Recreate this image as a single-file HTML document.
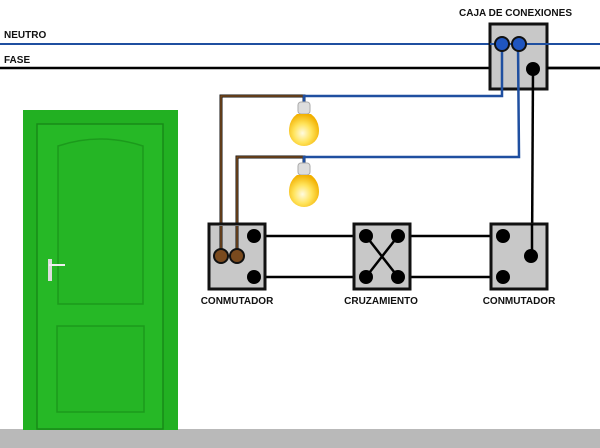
<!DOCTYPE html>
<html><head><style>
body{margin:0;width:600px;height:448px;background:#fff;overflow:hidden;position:relative;font-family:"Liberation Sans",sans-serif}
</style></head><body>
<svg width="600" height="448" viewBox="0 0 600 448" style="position:absolute;left:0;top:0">
<defs>
<radialGradient id="g" cx="0.45" cy="0.6" r="0.6"><stop offset="0" stop-color="#fffbe0"/><stop offset="0.5" stop-color="#ffe35a"/><stop offset="1" stop-color="#f2b000"/></radialGradient>
</defs>
<rect x="0" y="429" width="600" height="19" fill="#b9b9b9"/>
<!-- door -->
<rect x="23" y="110" width="155" height="320" fill="#22b022"/>
<rect x="37" y="124" width="126" height="305" fill="#26b826" stroke="#188a18" stroke-width="1.5"/>
<path d="M58 146 Q100 132 143 146 L143 304 L58 304 Z" fill="#25b525" stroke="#1c9a1c" stroke-width="1.5"/>
<rect x="57" y="326" width="87" height="86" fill="#25b525" stroke="#1c9a1c" stroke-width="1.5"/>
<rect x="48" y="259" width="4" height="22" fill="#ddd"/>
<rect x="49" y="264" width="16" height="2" fill="#eee"/>
<!-- lines -->
<line x1="0" y1="44" x2="600" y2="44" stroke="#1f4fa0" stroke-width="2"/>
<line x1="0" y1="68" x2="600" y2="68" stroke="#000" stroke-width="2.5"/>
<!-- junction box -->
<rect x="490" y="24" width="57" height="65" fill="#c8c8c8" stroke="#111" stroke-width="3"/>
<line x1="490" y1="44" x2="600" y2="44" stroke="#1f4fa0" stroke-width="2"/>
<line x1="547" y1="68" x2="600" y2="68" stroke="#000" stroke-width="2.5"/>
<!-- wires -->
<polyline points="221,256 221,96 304,96 304,102" fill="none" stroke="#111" stroke-width="3"/>
<polyline points="221,256 221,96 304,96 304,102" fill="none" stroke="#7a4a1e" stroke-width="1.5"/>
<polyline points="237,256 237,157 304,157 304,163" fill="none" stroke="#111" stroke-width="3"/>
<polyline points="237,256 237,157 304,157 304,163" fill="none" stroke="#7a4a1e" stroke-width="1.5"/>
<polyline points="304,102 304,96 502,96 502,44" fill="none" stroke="#1f4fa0" stroke-width="2.5"/>
<polyline points="304,163 304,157 519,157 518,44" fill="none" stroke="#1f4fa0" stroke-width="2.5"/>
<line x1="533" y1="69" x2="532" y2="256" stroke="#000" stroke-width="2.5"/>
<circle cx="502" cy="44" r="7" fill="#1f55c0" stroke="#111" stroke-width="2"/>
<circle cx="519" cy="44" r="7" fill="#1f55c0" stroke="#111" stroke-width="2"/>
<circle cx="533" cy="69" r="7" fill="#000"/>
<!-- bulbs -->
<rect x="298" y="102" width="12" height="12" rx="3" fill="#ddd" stroke="#aaa"/>
<path d="M297 114 Q289 120 289 131 A15 15 0 0 0 319 131 Q319 120 311 114 Z" fill="url(#g)"/>
<rect x="298" y="163" width="12" height="12" rx="3" fill="#ddd" stroke="#aaa"/>
<path d="M297 175 Q289 181 289 192 A15 15 0 0 0 319 192 Q319 181 311 175 Z" fill="url(#g)"/>
<!-- switch lines -->
<line x1="253" y1="236" x2="503" y2="236" stroke="#000" stroke-width="2.5"/>
<line x1="253" y1="277" x2="503" y2="277" stroke="#000" stroke-width="2.5"/>
<!-- boxes -->
<rect x="209" y="224" width="56" height="65" fill="#c8c8c8" stroke="#111" stroke-width="3"/>
<rect x="354" y="224" width="56" height="65" fill="#c8c8c8" stroke="#111" stroke-width="3"/>
<rect x="491" y="224" width="56" height="65" fill="#c8c8c8" stroke="#111" stroke-width="3"/>
<line x1="221" y1="226" x2="221" y2="256" stroke="#111" stroke-width="3"/>
<line x1="221" y1="226" x2="221" y2="256" stroke="#7a4a1e" stroke-width="1.5"/>
<line x1="237" y1="226" x2="237" y2="256" stroke="#111" stroke-width="3"/>
<line x1="237" y1="226" x2="237" y2="256" stroke="#7a4a1e" stroke-width="1.5"/>
<line x1="532" y1="224" x2="532" y2="256" stroke="#000" stroke-width="2.5"/>
<line x1="366" y1="236" x2="398" y2="277" stroke="#000" stroke-width="2.5"/>
<line x1="398" y1="236" x2="366" y2="277" stroke="#000" stroke-width="2.5"/>
<g fill="#000">
<circle cx="254" cy="236" r="7"/><circle cx="254" cy="277" r="7"/>
<circle cx="366" cy="236" r="7"/><circle cx="398" cy="236" r="7"/><circle cx="366" cy="277" r="7"/><circle cx="398" cy="277" r="7"/>
<circle cx="503" cy="236" r="7"/><circle cx="503" cy="277" r="7"/><circle cx="531" cy="256" r="7"/>
</g>
<circle cx="221" cy="256" r="7" fill="#7a4a1e" stroke="#111" stroke-width="2"/>
<circle cx="237" cy="256" r="7" fill="#7a4a1e" stroke="#111" stroke-width="2"/>
<g font-family="Liberation Sans, sans-serif" font-weight="bold" font-size="10" fill="#111">
<text x="4" y="38">NEUTRO</text>
<text x="4" y="63">FASE</text>
<text x="459" y="16">CAJA DE CONEXIONES</text>
<text x="237" y="304" text-anchor="middle">CONMUTADOR</text>
<text x="381" y="304" text-anchor="middle">CRUZAMIENTO</text>
<text x="519" y="304" text-anchor="middle">CONMUTADOR</text>
</g>
</svg>
</body></html>
